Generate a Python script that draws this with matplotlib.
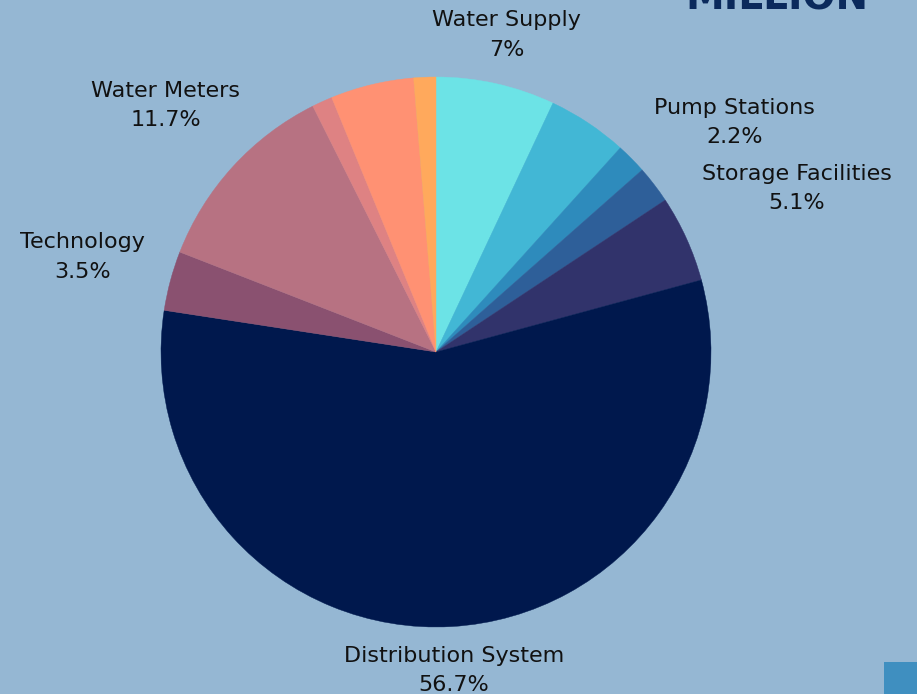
import matplotlib.pyplot as plt
from matplotlib.patches import Rectangle
import numpy as np

# slice data, clockwise from 12 o'clock
categories = ["Water Supply", "", "", "Pump Stations", "Storage Facilities",
              "Distribution System", "Technology", "Water Meters", "", "", ""]
shares = [7.0, 4.7, 1.8, 2.2, 5.1, 56.7, 3.5, 11.7, 1.2, 4.9, 1.3]
pct_labels = ["7%", "", "", "2.2%", "5.1%", "56.7%", "3.5%", "11.7%", "", "", ""]
colors = ["#6ce3e6", "#42b7d5", "#2e8bbc", "#2e5f99", "#31336b", "#00184d",
          "#8a5170", "#b77282", "#de8283", "#ff9173", "#ffa95c"]
# distance of each label from the centre, in radii
label_dist = [1.18, 0, 0, 1.37, 1.44, 1.16, 1.33, 1.33, 0, 0, 0]

bg = "#95b7d3"
W, H = 917, 694
cx, cy, r = 436, H - 352, 275

fig = plt.figure(figsize=(W / 100, H / 100), dpi=100, facecolor=bg)
ax = fig.add_axes([0, 0, 1, 1])
ax.set_facecolor(bg)

wedges, _ = ax.pie(shares, colors=colors, startangle=90, counterclock=False,
                   center=(cx, cy), radius=r, frame=True,
                   wedgeprops=dict(linewidth=0.3))
for w, c in zip(wedges, colors):
    w.set_edgecolor(c)
ax.set_xlim(0, W)
ax.set_ylim(0, H)
ax.set_aspect("equal")
ax.axis("off")

# labels along each wedge bisector
for w, name, pct, d in zip(wedges, categories, pct_labels, label_dist):
    if not name:
        continue
    mid = np.deg2rad((w.theta1 + w.theta2) / 2)
    x = cx + d * r * np.cos(mid)
    y = cy + d * r * np.sin(mid)
    ax.text(x, y, f"{name}\n{pct}", ha="center", va="center", fontsize=16,
            color="#111111", linespacing=1.6)

# cut-off title fragment and corner block
fig.text(685 / W, 1 - 10 / H, "MILLION", fontsize=28, fontweight="bold",
         color="#0b2a5c", ha="left", va="baseline")
fig.patches.append(Rectangle((884 / W, 0), 40 / W, 32 / H, transform=fig.transFigure,
                             facecolor="#3f8fc0", edgecolor="none"))

fig.savefig("out.png", dpi=100, facecolor=bg)
